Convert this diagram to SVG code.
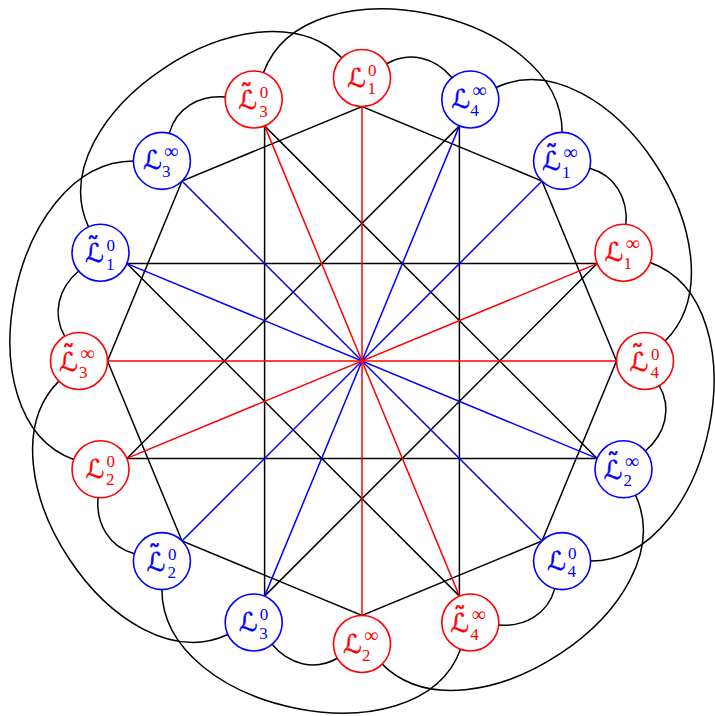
<svg xmlns="http://www.w3.org/2000/svg" width="715" height="716" viewBox="0 0 715 716">
<style>
.k{stroke:#000;stroke-width:1.5;fill:none}
.r{stroke:#f00;stroke-width:1.5;fill:none}
.b{stroke:#00f;stroke-width:1.5;fill:none}
.c{stroke:#000;stroke-width:1.5;fill:none}
.nr circle{stroke:#f00;fill:#fff;stroke-width:1.6}
.nb circle{stroke:#00f;fill:#fff;stroke-width:1.6}
.nr text{fill:#f00}
.nb text{fill:#00f}
.nr .L{stroke:#f00;stroke-width:0.45}
.nb .L{stroke:#00f;stroke-width:0.45}
.L{font-family:"DejaVu Sans",sans-serif;font-size:26px}
.d{font-family:"Liberation Serif",serif;font-size:17px}
.i{font-family:"Liberation Serif",serif;font-size:20px}
</style>
<rect width="715" height="716" fill="#fff"/>
<g id="connectors">
<polygon class="k" points="616.5,361 542,181 362,106.5 182,181 107.5,361 182,541 362,615.5 542,541"/>
<polygon class="k" points="597.1,263.6 126.9,263.6 459.4,596.1 459.4,125.9 126.9,458.4 597.1,458.4 264.6,125.9 264.6,596.1"/>
<line class="b" x1="542" y1="181" x2="182" y2="541"/>
<line class="b" x1="459.4" y1="125.9" x2="264.6" y2="596.1"/>
<line class="b" x1="182" y1="181" x2="542" y2="541"/>
<line class="b" x1="126.9" y1="263.6" x2="597.1" y2="458.4"/>
<line class="r" x1="616.5" y1="361" x2="107.5" y2="361"/>
<line class="r" x1="362" y1="106.5" x2="362" y2="615.5"/>
<line class="r" x1="597.1" y1="263.6" x2="126.9" y2="458.4"/>
<line class="r" x1="264.6" y1="125.9" x2="459.4" y2="596.1"/>
<path class="c" d="M386.68,63.75 C409.32,50.68 435.18,57.69 451.98,77.71"/>
<path class="c" d="M386.68,63.75 C409.32,50.68 435.18,57.69 451.98,77.71" transform="rotate(45 362 361)"/>
<path class="c" d="M386.68,63.75 C409.32,50.68 435.18,57.69 451.98,77.71" transform="rotate(90 362 361)"/>
<path class="c" d="M386.68,63.75 C409.32,50.68 435.18,57.69 451.98,77.71" transform="rotate(135 362 361)"/>
<path class="c" d="M386.68,63.75 C409.32,50.68 435.18,57.69 451.98,77.71" transform="rotate(180 362 361)"/>
<path class="c" d="M386.68,63.75 C409.32,50.68 435.18,57.69 451.98,77.71" transform="rotate(-135 362 361)"/>
<path class="c" d="M386.68,63.75 C409.32,50.68 435.18,57.69 451.98,77.71" transform="rotate(-90 362 361)"/>
<path class="c" d="M386.68,63.75 C409.32,50.68 435.18,57.69 451.98,77.71" transform="rotate(-45 362 361)"/>
<path class="c" d="M263.45,72.76 C305.17,-41.88 562.11,10.39 562.11,132.39"/>
<path class="c" d="M263.45,72.76 C305.17,-41.88 562.11,10.39 562.11,132.39" transform="rotate(45 362 361)"/>
<path class="c" d="M263.45,72.76 C305.17,-41.88 562.11,10.39 562.11,132.39" transform="rotate(90 362 361)"/>
<path class="c" d="M263.45,72.76 C305.17,-41.88 562.11,10.39 562.11,132.39" transform="rotate(135 362 361)"/>
<path class="c" d="M263.45,72.76 C305.17,-41.88 562.11,10.39 562.11,132.39" transform="rotate(180 362 361)"/>
<path class="c" d="M263.45,72.76 C305.17,-41.88 562.11,10.39 562.11,132.39" transform="rotate(-135 362 361)"/>
<path class="c" d="M263.45,72.76 C305.17,-41.88 562.11,10.39 562.11,132.39" transform="rotate(-90 362 361)"/>
<path class="c" d="M263.45,72.76 C305.17,-41.88 562.11,10.39 562.11,132.39" transform="rotate(-45 362 361)"/>
</g>
<g id="n1" class="nr" transform="translate(645,361)"><circle r="28.5"/><text><tspan class="L" x="-15.5 -14" y="9.5 3">ℒ˜</tspan><tspan class="d" x="6" y="-1.5">0</tspan><tspan class="d" x="5.5" y="17">4</tspan></text></g>
<g id="n2" class="nr" transform="translate(623.5,252.7)"><circle r="28.5"/><text><tspan class="L" x="-19" y="8.5">ℒ</tspan><tspan class="i" x="2" y="-2.5">∞</tspan><tspan class="d" x="0" y="16.5">1</tspan></text></g>
<g id="n3" class="nb" transform="translate(562.1,160.9)"><circle r="28.5"/><text><tspan class="L" x="-20 -17" y="9.5 3">ℒ˜</tspan><tspan class="i" x="1.2" y="-1.5">∞</tspan><tspan class="d" x="0" y="17">1</tspan></text></g>
<g id="n4" class="nb" transform="translate(470.3,99.5)"><circle r="28.5"/><text><tspan class="L" x="-19" y="8.5">ℒ</tspan><tspan class="i" x="2" y="-2.5">∞</tspan><tspan class="d" x="0" y="16.5">4</tspan></text></g>
<g id="n5" class="nr" transform="translate(362,78)"><circle r="28.5"/><text><tspan class="L" x="-15" y="8.5">ℒ</tspan><tspan class="d" x="6" y="-2.5">0</tspan><tspan class="d" x="5.5" y="16">1</tspan></text></g>
<g id="n6" class="nr" transform="translate(253.7,99.5)"><circle r="28.5"/><text><tspan class="L" x="-15.5 -14" y="9.5 3">ℒ˜</tspan><tspan class="d" x="6" y="-1.5">0</tspan><tspan class="d" x="5.5" y="17">3</tspan></text></g>
<g id="n7" class="nb" transform="translate(161.9,160.9)"><circle r="28.5"/><text><tspan class="L" x="-19" y="8.5">ℒ</tspan><tspan class="i" x="2" y="-2.5">∞</tspan><tspan class="d" x="0" y="16.5">3</tspan></text></g>
<g id="n8" class="nb" transform="translate(100.5,252.7)"><circle r="28.5"/><text><tspan class="L" x="-15.5 -14" y="9.5 3">ℒ˜</tspan><tspan class="d" x="6" y="-1.5">0</tspan><tspan class="d" x="5.5" y="17">1</tspan></text></g>
<g id="n9" class="nr" transform="translate(79,361)"><circle r="28.5"/><text><tspan class="L" x="-20 -17" y="9.5 3">ℒ˜</tspan><tspan class="i" x="1.2" y="-1.5">∞</tspan><tspan class="d" x="0" y="17">3</tspan></text></g>
<g id="n10" class="nr" transform="translate(100.5,469.3)"><circle r="28.5"/><text><tspan class="L" x="-15" y="8.5">ℒ</tspan><tspan class="d" x="6" y="-2.5">0</tspan><tspan class="d" x="5.5" y="16">2</tspan></text></g>
<g id="n11" class="nb" transform="translate(161.9,561.1)"><circle r="28.5"/><text><tspan class="L" x="-15.5 -14" y="9.5 3">ℒ˜</tspan><tspan class="d" x="6" y="-1.5">0</tspan><tspan class="d" x="5.5" y="17">2</tspan></text></g>
<g id="n12" class="nb" transform="translate(253.7,622.5)"><circle r="28.5"/><text><tspan class="L" x="-15" y="8.5">ℒ</tspan><tspan class="d" x="6" y="-2.5">0</tspan><tspan class="d" x="5.5" y="16">3</tspan></text></g>
<g id="n13" class="nr" transform="translate(362,644)"><circle r="28.5"/><text><tspan class="L" x="-19" y="8.5">ℒ</tspan><tspan class="i" x="2" y="-2.5">∞</tspan><tspan class="d" x="0" y="16.5">2</tspan></text></g>
<g id="n14" class="nr" transform="translate(470.3,622.5)"><circle r="28.5"/><text><tspan class="L" x="-20 -17" y="9.5 3">ℒ˜</tspan><tspan class="i" x="1.2" y="-1.5">∞</tspan><tspan class="d" x="0" y="17">4</tspan></text></g>
<g id="n15" class="nb" transform="translate(562.1,561.1)"><circle r="28.5"/><text><tspan class="L" x="-15" y="8.5">ℒ</tspan><tspan class="d" x="6" y="-2.5">0</tspan><tspan class="d" x="5.5" y="16">4</tspan></text></g>
<g id="n16" class="nb" transform="translate(623.5,469.3)"><circle r="28.5"/><text><tspan class="L" x="-20 -17" y="9.5 3">ℒ˜</tspan><tspan class="i" x="1.2" y="-1.5">∞</tspan><tspan class="d" x="0" y="17">2</tspan></text></g>
</svg>
